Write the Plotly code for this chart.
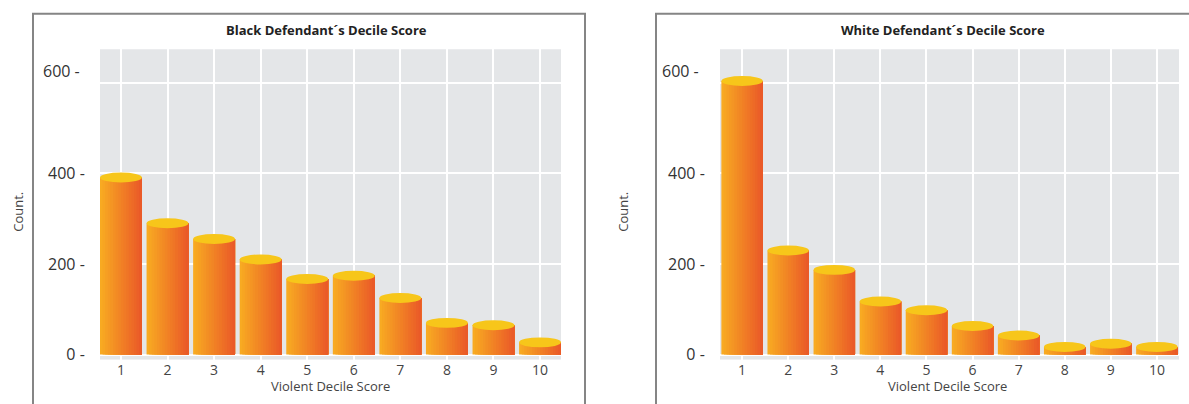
import plotly.graph_objects as go

scores = [1, 2, 3, 4, 5, 6, 7, 8, 9, 10]
black_counts = [391, 290, 255, 210, 167, 174, 125, 70, 65, 27]
white_counts = [604, 230, 187, 117, 98, 63, 42, 17, 24, 17]
y_ticks = [0, 200, 400, 600]
y_tick_text = ["0 -", "200 -", "400 -", ""]
top_tick_text = "600 -"
titles = ["Black Defendant\u00b4s Decile Score", "White Defendant\u00b4s Decile Score"]

FONT = "Open Sans"
N_STRIPS = 16
BAR_W = 0.9
c_left = (248, 170, 34)
c_right = (234, 90, 40)
cap_color = "#F7C61A"
cap_half = 11  # data units (vertical half height of cylinder cap)

fig = go.Figure()

def add_cylinders(xref, yref, counts):
    step = BAR_W / N_STRIPS
    for k in range(N_STRIPS):
        t = k / (N_STRIPS - 1)
        col = tuple(round(c_left[i] + (c_right[i] - c_left[i]) * t) for i in range(3))
        fig.add_trace(go.Bar(
            x=scores, y=counts,
            width=BAR_W - k * step,
            offset=-BAR_W / 2 + k * step,
            marker=dict(color="rgb(%d,%d,%d)" % col, line=dict(width=0)),
            xaxis=xref, yaxis=yref, showlegend=False, hoverinfo="skip",
        ))
    for s, v in zip(scores, counts):
        fig.add_shape(type="circle", xref=xref, yref=yref,
                      x0=s - BAR_W / 2, x1=s + BAR_W / 2,
                      y0=v - cap_half, y1=v + cap_half,
                      fillcolor=cap_color, line=dict(width=0), layer="above")

add_cylinders("x", "y", black_counts)
add_cylinders("x2", "y2", white_counts)

W, H = 1189, 404
def px_x(p):
    return p / W
def px_y(p):
    return 1 - p / H

bg = "#E4E6E8"
axis_common = dict(showline=False, zeroline=False, gridcolor="white", gridwidth=2)
xcommon = dict(axis_common, tickvals=scores, ticks="", tickfont=dict(family=FONT, size=14, color="#444"))
ycommon = dict(axis_common, range=[-11, 674], tickvals=y_ticks, ticktext=y_tick_text,
               ticks="outside", ticklen=11, tickcolor="rgba(0,0,0,0)",
               tickfont=dict(family=FONT, size=16, color="#333"))

fig.update_layout(
    width=W, height=H,
    margin=dict(l=0, r=0, t=0, b=0),
    paper_bgcolor="white",
    plot_bgcolor=bg,
    barmode="overlay",
    xaxis=dict(xcommon, domain=[px_x(100), px_x(561)], range=[0.55, 10.45], anchor="y"),
    yaxis=dict(ycommon, domain=[px_y(365), px_y(50)], anchor="x"),
    xaxis2=dict(xcommon, domain=[px_x(720), px_x(1179)], range=[0.52, 10.48], anchor="y2"),
    yaxis2=dict(ycommon, domain=[px_y(365), px_y(50)], anchor="x2"),
)

# panel borders
fig.add_shape(type="rect", xref="paper", yref="paper",
              x0=px_x(33), x1=px_x(585), y0=-0.05, y1=px_y(14),
              line=dict(color="#858585", width=2), fillcolor="rgba(0,0,0,0)", layer="below")
fig.add_shape(type="rect", xref="paper", yref="paper",
              x0=px_x(656), x1=1.05, y0=-0.05, y1=px_y(14),
              line=dict(color="#858585", width=2), fillcolor="rgba(0,0,0,0)", layer="below")

# "600 -" label sits a little above its gridline in the reference
for yref, lx in [("y", 82), ("y2", 701)]:
    fig.add_annotation(text=top_tick_text, x=px_x(lx), y=y_ticks[-1], xref="paper", yref=yref,
                       yshift=12, showarrow=False, xanchor="right", yanchor="middle",
                       font=dict(family=FONT, size=16, color="#333"))

# titles and axis labels
for cx, ttl, ylab_x in [(326, titles[0], 18), (943, titles[1], 623)]:
    fig.add_annotation(text="<b>" + ttl + "</b>", x=px_x(cx), y=px_y(30), xref="paper", yref="paper",
                       showarrow=False, font=dict(family=FONT, size=13, color="#222"),
                       xanchor="center", yanchor="middle")
    fig.add_annotation(text="Violent Decile Score", x=px_x(cx + 4), y=px_y(392), xref="paper", yref="paper",
                       showarrow=False, font=dict(family=FONT, size=13, color="#444"),
                       xanchor="center", yanchor="middle")
    fig.add_annotation(text="Count.", x=px_x(ylab_x), y=px_y(215), xref="paper", yref="paper",
                       showarrow=False, textangle=-90, font=dict(family=FONT, size=13, color="#444"),
                       xanchor="center", yanchor="middle")

fig.write_html("out.html")
